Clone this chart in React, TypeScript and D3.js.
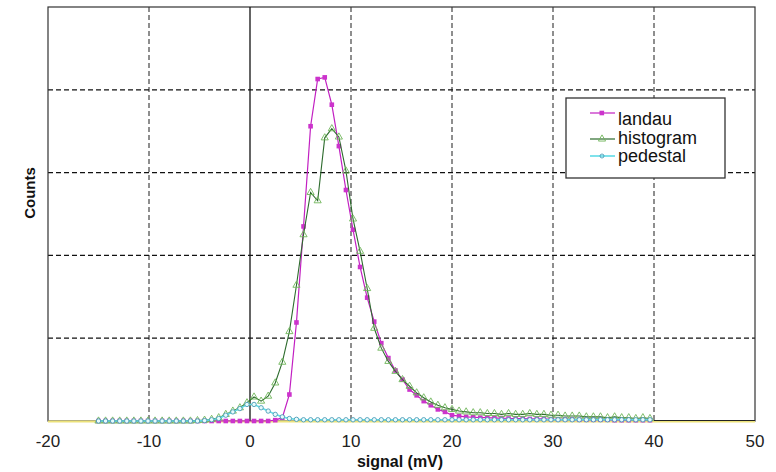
import React from "react";
import * as d3 from "d3";

// Bin centres: -15 mV onward, 0.7 mV apart (79 bins)
const binStart = -15;
const binWidth = 0.7;

const landau = [
  0, 0, 0, 0, 0, 0, 0, 0, 0, 0,
  0, 0, 0, 0, 0, 0, 0, 0, 0, 0,
  0, 0, 0, 0, 0, 1, 4, 32, 119, 235,
  356, 413, 415, 382, 332, 279, 231, 186, 149, 120,
  94, 76, 61, 50, 38, 31, 24, 19, 14, 11,
  7, 6, 5, 4.5, 4, 4, 3.5, 3.5, 3, 3,
  3, 2.5, 2.5, 2.5, 2, 2, 2, 2, 1.5, 1.5,
  1.5, 1.5, 1.5, 1, 1, 1, 1, 1, 1,
];

const histogram = [
  0, 0, 0, 0, 0, 0, 0, 0, 0, 0,
  0, 0, 0, 0, 0.5, 1, 2, 4, 8, 12,
  16, 22, 29, 24, 30, 46, 71, 108, 164, 225,
  276, 266, 342, 353, 343, 302, 244, 205, 160, 112,
  88, 72, 60, 50, 42, 34, 28, 23, 19, 16,
  14, 12, 11, 10, 10, 9, 9, 8, 9, 8,
  8, 9, 8, 8, 7, 7, 6, 6, 6, 5,
  5, 5, 4, 5, 4, 4, 3, 4, 3,
];

const pedestal = [
  0, 0, 0, 0, 0, 0, 0, 0, 0, 0,
  0, 0, 0, 0, 0, 0.5, 1.5, 3, 7, 11,
  15, 20, 20, 16, 12, 8, 5, 3, 2, 1.5,
  1.5, 1.5, 1.5, 1.5, 1.5, 1.5, 1.5, 1.5, 1.5, 1.5,
  1.5, 1.5, 1.5, 1.5, 1.5, 1.5, 1.5, 1.5, 1.5, 1.5,
  1.5, 1.5, 1.5, 1.5, 1.5, 1.5, 1.5, 1.5, 1.5, 1.5,
  1.5, 1.5, 1.5, 1.5, 1.5, 1.5, 1.5, 1.5, 1.5, 1.5,
  1.5, 1.5, 1.5, 1.5, 1.5, 1.5, 1.5, 1.5, 1.5,
];

const xTicks = [-20, -10, 0, 10, 20, 30, 40, 50];
const yGrid = [100, 200, 300, 400];
const legendLabels = ["landau", "histogram", "pedestal"];

const W = 776;
const H = 472;
const M = { left: 48, right: 21, top: 7, bottom: 51 };

export default function App() {
  const x = d3.scaleLinear().domain([-20, 50]).range([M.left, W - M.right]);
  const y = d3.scaleLinear().domain([0, 500]).range([H - M.bottom, M.top]);

  const bins = landau.map((_, i) => binStart + i * binWidth);
  const pts = (arr: number[]) => arr.map((v, i) => [bins[i], v] as [number, number]);
  const line = d3
    .line<[number, number]>()
    .x((d) => x(d[0]))
    .y((d) => y(d[1]));

  const y0 = y(0);
  const font = "'Liberation Sans', Arial, Helvetica, sans-serif";
  const tri = d3.symbol().type(d3.symbolTriangle).size(22)()!;

  const legendX = 566;
  const legendY = 98;
  const legendRows = [113, 139, 156];
  const textRows = [125, 143.5, 162];

  return (
    <svg
      width={W}
      height={H}
      style={{ position: "absolute", left: 0, top: 0, background: "#fff" }}
      fontFamily={font}
    >
      <rect x={0} y={0} width={W} height={H} fill="#fff" />
      {/* grid */}
      {xTicks
        .filter((t) => t !== -20 && t !== 0 && t !== 50)
        .map((t) => (
          <line
            key={"gx" + t}
            x1={x(t)}
            x2={x(t)}
            y1={M.top}
            y2={y0}
            stroke="#444"
            strokeWidth={1.2}
            strokeDasharray="5,3"
          />
        ))}
      {yGrid.map((g) => (
        <line
          key={"gy" + g}
          x1={M.left}
          x2={W - M.right}
          y1={y(g)}
          y2={y(g)}
          stroke="#111"
          strokeWidth={1.2}
          strokeDasharray="5,3"
        />
      ))}
      {/* frame */}
      <rect
        x={M.left}
        y={M.top}
        width={W - M.right - M.left}
        height={y0 - M.top}
        fill="none"
        stroke="#333"
        strokeWidth={1.2}
      />
      <line x1={x(-20)} x2={x(50)} y1={y0 + 0.5} y2={y0 + 0.5} stroke="#ece27a" strokeWidth={2} />
      <line x1={x(40)} x2={x(50)} y1={y0 - 0.5} y2={y0 - 0.5} stroke="#222" strokeWidth={1} />
      {/* zero line */}
      <line x1={x(0)} x2={x(0)} y1={M.top} y2={y0} stroke="#111" strokeWidth={1.3} />

      {/* landau */}
      <path d={line(pts(landau))!} fill="none" stroke="#c21fc2" strokeWidth={1.2} />
      {pts(landau).map((d, i) => (
        <rect key={"l" + i} x={x(d[0]) - 2.3} y={y(d[1]) - 2.3} width={4.6} height={4.6} fill="#cc33cc" />
      ))}
      {/* histogram */}
      <path d={line(pts(histogram))!} fill="none" stroke="#2d6b2d" strokeWidth={1.1} />
      {pts(histogram).map((d, i) => (
        <path
          key={"h" + i}
          d={tri}
          transform={`translate(${x(d[0])},${y(d[1])})`}
          fill="none"
          stroke="#6fb55a"
          strokeWidth={0.9}
        />
      ))}
      {/* pedestal */}
      <path d={line(pts(pedestal))!} fill="none" stroke="#5fdbe6" strokeWidth={1.6} />
      {pts(pedestal).map((d, i) => (
        <circle key={"p" + i} cx={x(d[0])} cy={y(d[1])} r={2.2} fill="#e8fbfc" stroke="#4a9cb8" strokeWidth={0.9} />
      ))}

      {/* x tick labels */}
      {xTicks.map((t) => (
        <text key={"t" + t} x={x(t)} y={447} textAnchor="middle" fontSize={17} fill="#222">
          {t}
        </text>
      ))}
      <text x={400} y={467} textAnchor="middle" fontSize={16} fontWeight="bold" fill="#111">
        signal (mV)
      </text>
      <text
        transform={`translate(35,193) rotate(-90)`}
        textAnchor="middle"
        fontSize={15}
        fontWeight="bold"
        fill="#111"
      >
        Counts
      </text>

      {/* legend */}
      <rect x={legendX} y={legendY} width={159} height={80} fill="#fff" stroke="#333" strokeWidth={1.3} />
      {legendLabels.map((lab, i) => (
        <g key={lab}>
          <line
            x1={590}
            x2={615}
            y1={legendRows[i]}
            y2={legendRows[i]}
            stroke={i === 0 ? "#c21fc2" : i === 1 ? "#2d6b2d" : "#5fdbe6"}
            strokeWidth={i === 2 ? 1.6 : 1.2}
          />
          {i === 0 && <rect x={599.5} y={legendRows[i] - 2.3} width={4.6} height={4.6} fill="#cc33cc" />}
          {i === 1 && (
            <path d={tri} transform={`translate(602,${legendRows[i]})`} fill="none" stroke="#6fb55a" strokeWidth={0.9} />
          )}
          {i === 2 && <circle cx={602} cy={legendRows[i]} r={2} fill="none" stroke="#4a9cb8" strokeWidth={0.9} />}
          <text x={618} y={textRows[i]} fontSize={18} fill="#111">
            {lab}
          </text>
        </g>
      ))}
    </svg>
  );
}
